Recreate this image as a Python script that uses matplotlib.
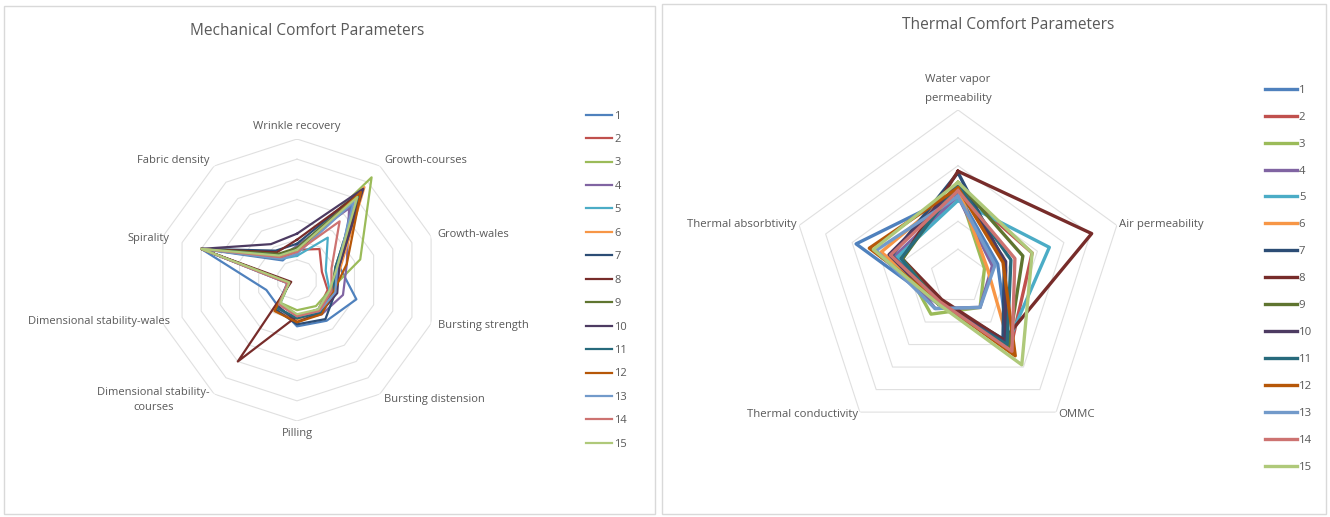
import numpy as np
import matplotlib.pyplot as plt
from matplotlib.patches import Rectangle

plt.rcParams['font.family'] = ['Open Sans', 'DejaVu Sans']

GREY = '#595959'
GRID = '#e0e0e0'

series = [str(i) for i in range(1, 16)]
colors = ['#4f81bd', '#c0504d', '#9bbb59', '#8064a2', '#4bacc6', '#f79646',
          '#2c4d75', '#772c2a', '#5f7530', '#4d3b62', '#276a7c', '#b65708',
          '#729aca', '#cd7371', '#afc97a']

# mechanical comfort parameters
mech_axes = ['Wrinkle recovery', 'Growth-courses', 'Growth-wales', 'Bursting strength',
             'Bursting distension', 'Pilling', 'Dimensional stability-\ncourses',
             'Dimensional stability-wales', 'Spirality', 'Fabric density']
mech = [
    [1.6, 4.6, 2.2, 3.1, 2.5, 2.3, 1.6, 1.6, 5.0, 1.2],
    [1.5, 1.9, 1.3, 1.6, 1.8, 1.8, 1.5, 0.4, 5.0, 1.3],
    [1.5, 6.3, 3.3, 1.7, 1.6, 1.5, 1.4, 0.4, 5.0, 1.5],
    [1.7, 4.4, 2.6, 2.4, 2.1, 2.0, 1.7, 0.4, 5.0, 1.4],
    [1.2, 2.6, 1.5, 1.7, 1.8, 1.8, 1.4, 0.4, 5.0, 1.3],
    [1.5, 5.7, 2.3, 1.9, 1.9, 2.0, 1.9, 0.4, 5.0, 1.6],
    [1.8, 5.5, 2.2, 2.0, 2.4, 2.2, 1.8, 0.5, 5.0, 1.8],
    [2.0, 5.3, 2.1, 1.8, 2.0, 1.8, 5.0, 0.3, 5.0, 1.7],
    [1.6, 5.2, 2.0, 1.8, 1.9, 1.9, 1.7, 0.4, 5.0, 1.6],
    [2.3, 5.6, 2.2, 2.1, 2.0, 2.1, 1.6, 0.4, 5.0, 2.2],
    [1.5, 5.2, 2.0, 1.9, 2.0, 1.9, 1.7, 0.4, 5.0, 1.5],
    [1.4, 5.4, 2.6, 1.9, 2.1, 2.1, 1.9, 0.4, 5.0, 1.4],
    [1.3, 4.8, 2.1, 2.0, 1.9, 1.8, 1.5, 0.5, 5.0, 1.3],
    [1.4, 3.6, 1.8, 1.8, 1.9, 1.8, 1.5, 0.5, 5.0, 1.4],
    [1.5, 5.1, 2.1, 1.7, 1.8, 1.7, 1.4, 0.4, 5.0, 1.5],
]

# thermal comfort parameters
therm_axes = ['Water vapor\npermeability', 'Air permeability', 'OMMC',
              'Thermal conductivity', 'Thermal absorbtivity']
therm = [
    [3.0, 1.5, 3.1, 1.2, 3.85],
    [3.2, 2.8, 3.2, 1.1, 2.6],
    [3.2, 1.0, 1.35, 1.65, 2.2],
    [2.9, 1.3, 1.35, 1.4, 2.4],
    [2.75, 3.45, 3.0, 1.1, 2.3],
    [3.2, 1.1, 3.2, 1.1, 2.9],
    [3.75, 1.75, 2.75, 1.1, 2.5],
    [3.8, 5.05, 2.8, 1.0, 2.1],
    [3.4, 2.45, 3.1, 1.2, 2.1],
    [3.3, 1.8, 2.9, 1.2, 2.6],
    [3.3, 2.0, 3.0, 1.2, 2.15],
    [3.2, 1.7, 3.5, 1.1, 3.35],
    [2.9, 1.4, 1.35, 1.4, 3.1],
    [3.1, 2.15, 3.3, 1.1, 2.55],
    [3.4, 2.8, 3.9, 1.2, 3.2],
]


def radar(ax, labels, data, rings, lw, label_r, fs, lsp, side_pull=0.0, top_push=0.0):
    n = len(labels)
    theta = np.linspace(0, 2 * np.pi, n, endpoint=False)
    closed = np.append(theta, theta[0])
    ax.set_theta_zero_location('N')
    ax.set_theta_direction(-1)
    ax.set_ylim(0, rings)
    ax.grid(False)
    ax.spines['polar'].set_visible(False)
    ax.set_xticks([])
    ax.set_yticks([])
    ax.patch.set_visible(False)
    for r in range(1, rings + 1):
        ax.plot(closed, [r] * (n + 1), color=GRID, lw=0.8, zorder=1)
    lines = []
    for vals, c, name in zip(data, colors, series):
        ln, = ax.plot(closed, vals + vals[:1], color=c, lw=lw, label=name, zorder=2)
        lines.append(ln)
    for t, lab in zip(theta, labels):
        s = np.sin(t)
        c = np.cos(t)
        r = label_r
        if abs(s) < 0.1:
            ha = 'center'
            va = 'bottom' if c > 0 else 'top'
            if c > 0:
                r += top_push
        else:
            ha = 'left' if s > 0 else 'right'
            va = 'center'
            # labels on the far left sit a little closer to the web
            if s < -0.9:
                r -= side_pull
        ax.text(t, r, lab, ha=ha, va=va, fontsize=fs, color=GREY,
                multialignment='center', linespacing=lsp, clip_on=False)
    return lines


fig = plt.figure(figsize=(13.3, 5.17), dpi=100)
W, H = 1330, 517

# chart frames
for x0, y0, x1, y1 in [(4, 6, 655, 514), (662, 4, 1326, 514)]:
    fig.add_artist(Rectangle((x0 / W, 1 - y1 / H), (x1 - x0) / W, (y1 - y0) / H,
                             transform=fig.transFigure, fill=False,
                             edgecolor='#d9d9d9', lw=1))

ax1 = fig.add_axes([156 / W, 1 - 421 / H, 282 / W, 282 / H], projection='polar')
l1 = radar(ax1, mech_axes, mech, 7, 1.6, 7.35, 8.0, 1.45, side_pull=0.7)

ax2 = fig.add_axes([791 / W, 1 - 444 / H, 334 / W, 334 / H], projection='polar')
l2 = radar(ax2, therm_axes, therm, 6, 2.4, 6.1, 8.2, 1.95, top_push=0.12)

fig.text(307 / W, 1 - 31 / H, 'Mechanical Comfort Parameters', ha='center', va='center',
         fontsize=11.2, color=GREY)
fig.text(1008 / W, 1 - 25 / H, 'Thermal Comfort Parameters', ha='center', va='center',
         fontsize=11.2, color=GREY)

fig.legend(handles=l1, loc='upper left', bbox_to_anchor=(580 / W, 1 - 105 / H),
           frameon=False, fontsize=8, handlelength=2.4, handletextpad=0.2,
           labelspacing=1.12, borderpad=0, labelcolor=GREY)
fig.legend(handles=l2, loc='upper left', bbox_to_anchor=(1259 / W, 1 - 79 / H),
           frameon=False, fontsize=8.2, handlelength=2.8, handletextpad=0.2,
           labelspacing=1.40, borderpad=0, labelcolor=GREY)

fig.savefig('out.png', dpi=100)
